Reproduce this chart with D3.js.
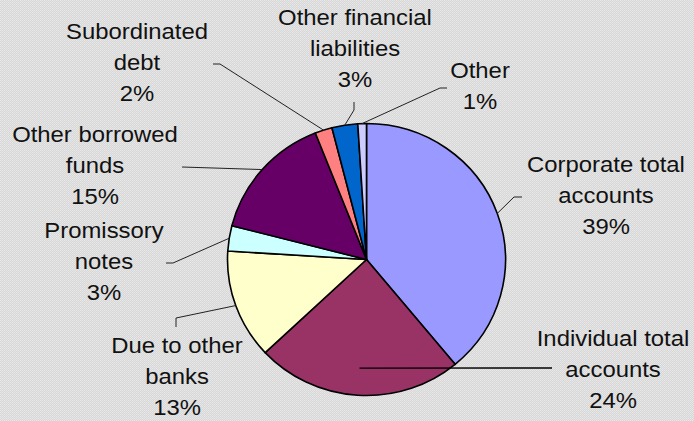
<!DOCTYPE html>
<html>
<head>
<meta charset="utf-8">
<script src="https://cdn.jsdelivr.net/npm/d3@7"></script>
<style>
  html, body { margin: 0; padding: 0; background: #ddd; }
  svg { display: block; }
</style>
</head>
<body>
<svg id="chart" width="694" height="421"></svg>
<script>
// Liability structure, share of total (%)
const categories = [
  "Corporate total accounts",
  "Individual total accounts",
  "Due to other banks",
  "Promissory notes",
  "Other borrowed funds",
  "Subordinated debt",
  "Other financial liabilities",
  "Other"
];
const values = [39, 24, 13, 3, 15, 2, 3, 1];
const labelLines = [
  ["Corporate total", "accounts"],
  ["Individual total", "accounts"],
  ["Due to other", "banks"],
  ["Promissory", "notes"],
  ["Other borrowed", "funds"],
  ["Subordinated", "debt"],
  ["Other financial", "liabilities"],
  ["Other"]
];
const colors = ["#9999FF", "#993366", "#FFFFCC", "#CCFFFF", "#660066", "#FF8080", "#0066CC", "#CCCCFF"];

// Label layout: text centre x, first baseline y, leader elbow, leader end, leader anchor radius factor
const labelLayout = [
  { x: 606, y: 172, elbow: [514, 197], end: [522, 197], rf: 1 },
  { x: 613, y: 346, elbow: null, end: [552, 368], rf: 0.8 },
  { x: 177, y: 353, elbow: [176, 318], end: [176, 327], rf: 1 },
  { x: 104, y: 238, elbow: [173, 263], end: [166, 263], rf: 1 },
  { x: 95, y: 142, elbow: null, end: [182, 167], rf: 1 },
  { x: 137, y: 39, elbow: [220, 64], end: [213, 64], rf: 1 },
  { x: 355, y: 25, elbow: [354, 110], end: [354, 102], rf: 1 },
  { x: 480, y: 78, elbow: [440, 88], end: [447, 88], rf: 1 }
];

const W = 694, H = 421;
const cx = 366.5, cy = 259.5, R = 136, sx = 139 / 136;
const lineGap = 31.2, fontSize = 22, textStretch = 1.085;

const svg = d3.select("#chart");

// dotted grey backdrop
const defs = svg.append("defs");
const pat = defs.append("pattern").attr("id", "dots")
  .attr("width", 2).attr("height", 2).attr("patternUnits", "userSpaceOnUse");
pat.append("rect").attr("width", 2).attr("height", 2).attr("fill", "#d7d7d7");
pat.append("rect").attr("width", 1).attr("height", 1).attr("fill", "#e8e8e8");
pat.append("rect").attr("x", 1).attr("y", 1).attr("width", 1).attr("height", 1).attr("fill", "#e4e4e4");
svg.append("rect").attr("width", W).attr("height", H).attr("fill", "url(#dots)");

const pie = d3.pie().sort(null).value(d => d);
const arcs = pie(values);
const arc = d3.arc().innerRadius(0).outerRadius(R);

const g = svg.append("g").attr("transform", `translate(${cx},${cy}) scale(${sx},1)`);
g.selectAll("path.slice").data(arcs).join("path")
  .attr("class", "slice")
  .attr("d", arc)
  .attr("fill", (d, i) => colors[i])
  .attr("stroke", "#000")
  .attr("stroke-width", 1.6)
  .attr("stroke-linejoin", "round")
  .attr("vector-effect", "non-scaling-stroke");

// point on the slice's mid-angle, scaled to the ellipse
function anchor(d, rf) {
  const a = (d.startAngle + d.endAngle) / 2;
  return [cx + Math.sin(a) * R * sx * rf, cy - Math.cos(a) * R * rf];
}

const line = d3.line();
svg.append("g").selectAll("path.leader").data(arcs).join("path")
  .attr("class", "leader")
  .attr("d", (d, i) => {
    const L = labelLayout[i];
    const pts = [anchor(d, L.rf)];
    if (L.elbow) pts.push(L.elbow);
    pts.push(L.end);
    return line(pts);
  })
  .attr("fill", "none")
  .attr("stroke", (d, i) => i === 1 ? "#000" : "#222")
  .attr("stroke-width", (d, i) => i === 1 ? 1.4 : 1);

const labels = svg.append("g").selectAll("g.label").data(arcs).join("g")
  .attr("class", "label")
  .attr("transform", (d, i) => `translate(${labelLayout[i].x},${labelLayout[i].y}) scale(${textStretch},1)`);

labels.append("text")
  .attr("text-anchor", "middle")
  .attr("font-family", "'Liberation Sans', Arial, sans-serif")
  .attr("font-size", fontSize)
  .attr("fill", "#111")
  .selectAll("tspan")
  .data((d, i) => labelLines[i].concat([`${values[i]}%`]))
  .join("tspan")
  .attr("x", 0)
  .attr("y", (t, j) => j * lineGap)
  .text(t => t);
</script>
</body>
</html>
